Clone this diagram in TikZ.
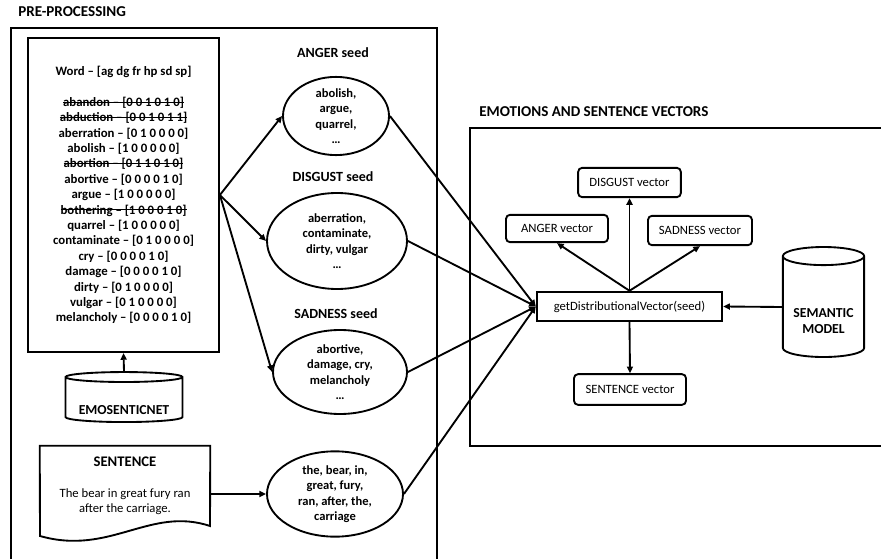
\documentclass[tikz,border=0pt]{standalone}
\usepackage{fontspec}
\setmainfont{Carlito}
\usetikzlibrary{arrows.meta,shapes.geometric}

\newcommand{\struck}[1]{\sbox0{#1}\rlap{\usebox0}\rule[0.3em]{\wd0}{0.6pt}}

\begin{document}
\begin{tikzpicture}[x=0.75pt,y=-0.75pt,
    every node/.style={font=\fontsize{9.5}{11.5}\selectfont},
    frame/.style={line width=1.8pt},
    title/.style={anchor=west,inner sep=0pt,font=\fontsize{11.3}{13}\selectfont\bfseries},
    wordbox/.style={draw,line width=1.6pt,minimum width=143pt,minimum height=235.5pt,align=center,font=\fontsize{9.6}{11.55}\selectfont\bfseries},
    seedtitle/.style={font=\fontsize{10.5}{12}\selectfont\bfseries},
    seed/.style={draw,ellipse,line width=1.4pt,inner sep=0pt,align=center,font=\fontsize{9.4}{11.6}\selectfont\bfseries},
    vecbox/.style={draw,rounded corners=3pt,line width=1.4pt,inner sep=0pt},
    db/.style={draw,cylinder,shape border rotate=90,line width=1.4pt,inner sep=0pt,align=center,font=\fontsize{10.3}{12}\selectfont\bfseries},
    arr/.style={-{Triangle[length=5pt,width=4.5pt]},line width=1.4pt},
    ln/.style={line width=1.4pt}]
  \useasboundingbox (0,0) rectangle (881,559);

  % pre-processing part
  \node[title] (pretitle) at (18,12) {PRE-PROCESSING};
  \draw[frame] (11,28) rectangle (437,566);

  \node[wordbox] (words) at (123.5,195) {Word -- [ag dg fr hp sd sp]\\[11.55pt]
    \struck{abandon -- [0 0 1 0 1 0]}\\
    \struck{abduction -- [0 0 1 0 1 1]}\\
    aberration -- [0 1 0 0 0 0]\\
    abolish -- [1 0 0 0 0 0]\\
    \struck{abortion -- [0 1 1 0 1 0]}\\
    abortive -- [0 0 0 0 1 0]\\
    argue -- [1 0 0 0 0 0]\\
    \struck{bothering -- [1 0 0 0 1 0]}\\
    quarrel -- [1 0 0 0 0 0]\\
    contaminate -- [0 1 0 0 0 0]\\
    cry -- [0 0 0 0 1 0]\\
    damage -- [0 0 0 0 1 0]\\
    dirty -- [0 1 0 0 0 0]\\
    vulgar -- [0 1 0 0 0 0]\\
    melancholy -- [0 0 0 0 1 0]};

  \node[db,minimum width=87.75pt,minimum height=37.5pt,aspect=0.11] (emosenticnet) at (124,400) {\raisebox{-10.5pt}[0pt][0pt]{EMOSENTICNET}};
  \draw[arr] (emosenticnet.north) -- (words.south);

  \node[seedtitle] (angertitle) at (333,53) {ANGER seed};
  \node[seed,minimum width=79.5pt,minimum height=58.5pt] (anger) at (336,116) {abolish,\\ argue,\\ quarrel,\\ …};
  \node[seedtitle] (disgusttitle) at (333,177) {DISGUST seed};
  \node[seed,minimum width=105pt,minimum height=72pt] (disgust) at (337,241) {aberration,\\ contaminate,\\ dirty, vulgar\\ …};
  \node[seedtitle] (sadnesstitle) at (336,314) {SADNESS seed};
  \node[seed,minimum width=100.5pt,minimum height=63pt] (sadness) at (340,372) {abortive,\\ damage, cry,\\ melancholy\\ …};

  \draw[arr] (words.east) -- (anger.west);
  \draw[arr] (words.east) -- (disgust.west);
  \draw[arr] (words.east) -- (sadness.west);

  % sentence document
  \node[minimum width=127.5pt,minimum height=72pt] (sentence) at (125,494) {};
  \draw[ln] (sentence.north west) -- (sentence.north east) -- (210,526)
    .. controls (150,506) and (110,556) .. (40,536) -- cycle;
  \node[align=center] (senttext) at (125,486) {{\fontsize{11}{12}\selectfont\bfseries SENTENCE}\\[11.5pt] The bear in great fury ran\\ after the carriage.};
  \node[seed,minimum width=102pt,minimum height=64pt] (tokens) at (335,494) {the, bear, in,\\ great, fury,\\ ran, after, the,\\ carriage};
  \draw[arr] (sentence.east) -- (tokens.west);

  % emotions and sentence vectors part
  \node[title] (vectitle) at (479,112) {EMOTIONS AND SENTENCE VECTORS};
  \draw[frame] (470,128) rectangle (890,446);

  \node[draw,line width=1.6pt,minimum width=139pt,minimum height=22pt] (getvec) at (629.5,306.5) {getDistributionalVector(seed)};
  \node[vecbox,minimum width=77pt,minimum height=22pt] (disgustvec) at (629.5,182.5) {DISGUST vector};
  \node[vecbox,minimum width=76.5pt,minimum height=20.5pt] (angervec) at (557,228.5) {ANGER vector};
  \node[vecbox,minimum width=78pt,minimum height=22pt] (sadnessvec) at (700,230.5) {SADNESS vector};
  \node[vecbox,minimum width=84pt,minimum height=23pt] (sentvec) at (630,389.5) {SENTENCE vector};
  \node[db,minimum width=61pt,minimum height=82.5pt,aspect=0.3] (semantic) at (823.5,307)
    {\raisebox{-14pt}[0pt][0pt]{\begin{tabular}{@{}c@{}}SEMANTIC\\ MODEL\end{tabular}}};

  \draw[arr] (anger.east) -- (getvec.west);
  \draw[arr] (disgust.east) -- (getvec.west);
  \draw[arr] (sadness.east) -- (getvec.west);
  \draw[arr] (tokens.east) -- (getvec.west);

  \draw[arr] (getvec.north) -- (disgustvec.south);
  \draw[arr] (getvec.north) -- (angervec.south);
  \draw[arr] (getvec.north) -- (sadnessvec.south);
  \draw[arr] (getvec.south) -- (sentvec.north);
  \draw[arr] (semantic.west) -- (getvec.east);
\end{tikzpicture}
\end{document}
